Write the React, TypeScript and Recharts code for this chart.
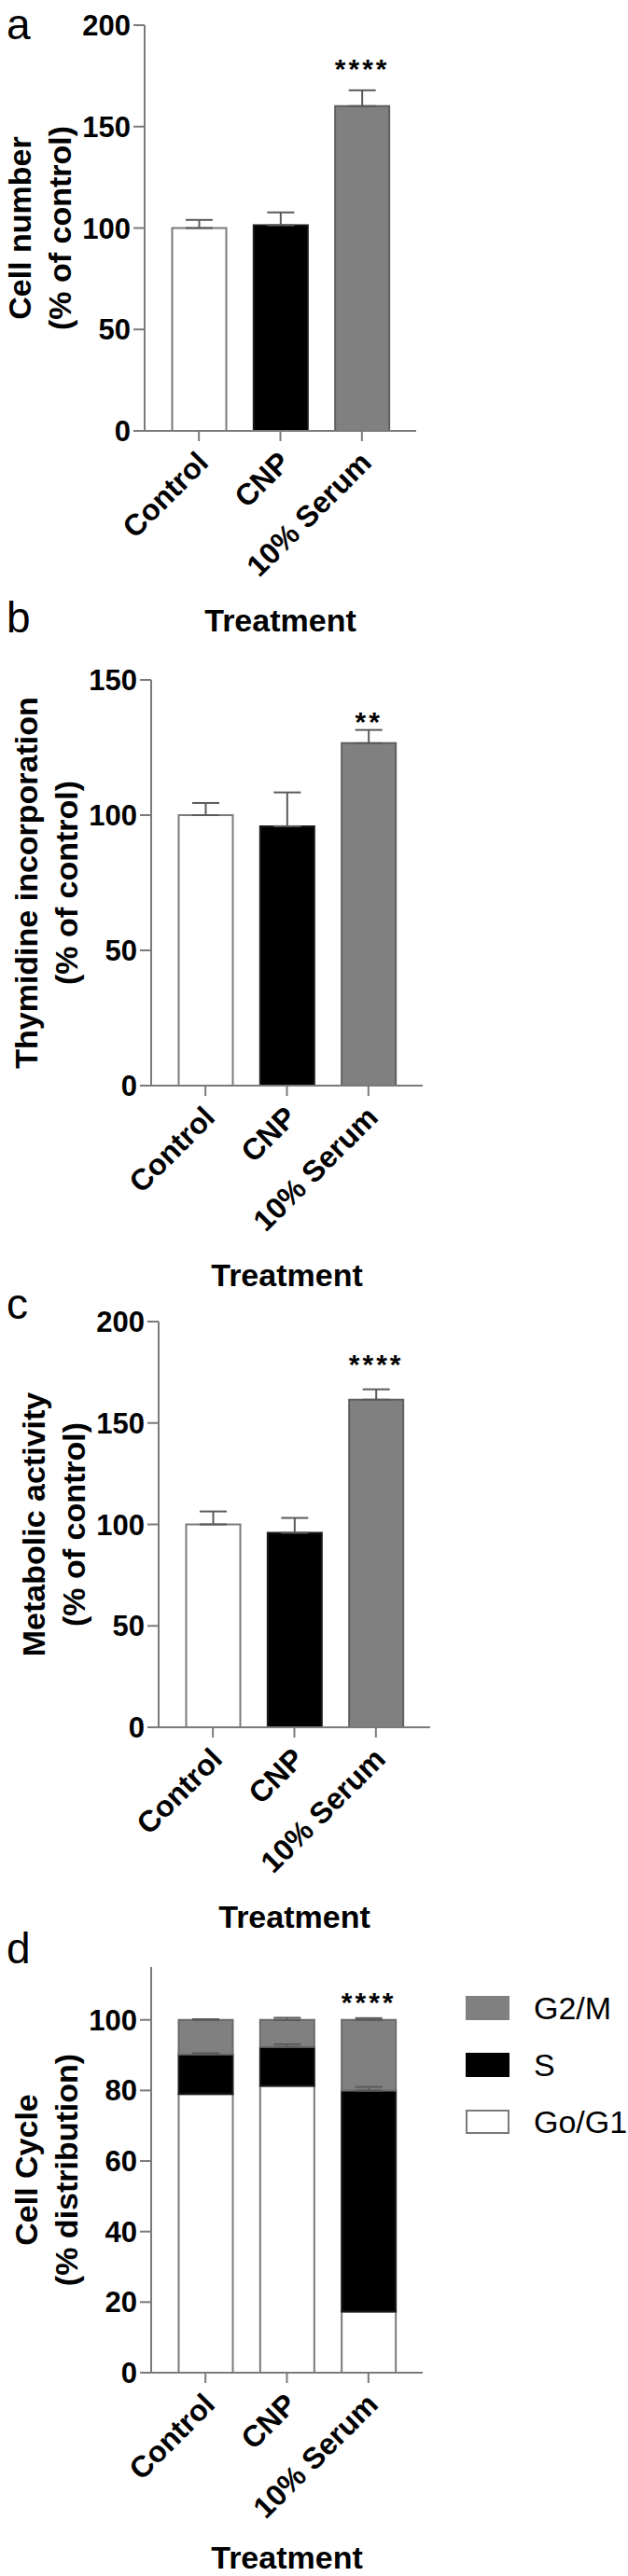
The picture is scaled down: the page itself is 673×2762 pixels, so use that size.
import React from "react";
import {
  BarChart,
  Bar,
  XAxis,
  YAxis,
  ErrorBar,
  Cell,
  LabelList,
  Legend,
} from "recharts";

// shared categories
const categories = ["Control", "CNP", "10% Serum"];
const barFills = ["#ffffff", "#000000", "#808080"];
const barStrokes = ["#7a7a7a", "#1a1a1a", "#5f5f5f"];

// a - cell number
const cellNumber = [100, 101.4, 160.1];
const cellNumberErr = [4, 6.3, 7.8];
const cellNumberSig = ["", "", "****"];

// b - thymidine incorporation
const thymidine = [100, 95.9, 126.6];
const thymidineErr = [4.5, 12.5, 4.9];
const thymidineSig = ["", "", "**"];

// c - metabolic activity
const metabolic = [100, 95.9, 161.5];
const metabolicErr = [6.4, 7.3, 5.1];
const metabolicSig = ["", "", "****"];

// d - cell cycle distribution
const g0g1 = [79, 81.3, 17.3];
const sPhase = [11.2, 11, 62.7];
const sPhaseErr = [0.4, 0.8, 1.0];
const g2m = [9.8, 7.7, 20];
const g2mErr = [0.2, 0.6, 0.5];
const cycleSig = ["", "", "****"];
const cyclePhases = ["G2/M", "S", "Go/G1"];
const cycleFills = ["#808080", "#000000", "#ffffff"];

const ticks200 = [0, 50, 100, 150, 200];
const ticks150 = [0, 50, 100, 150];
const ticksCycle = [0, 20, 40, 60, 80, 100];

const FONT = "'Liberation Sans', Arial, Helvetica, sans-serif";
const AXIS = "#7a7a7a";
const ERR = "#5a5a5a";

const PLOT_W = 291;
const TOP_M = 27;
const PLOT_H = 435;
const X_AXIS_H = 225;
const CHART_H = TOP_M + PLOT_H + X_AXIS_H;

function RotatedTick(props: any) {
  const { x, y, payload } = props;
  const ax = x + 12;
  const ay = y + 23;
  return (
    <text
      x={ax}
      y={ay}
      transform={`rotate(-45 ${ax} ${ay})`}
      textAnchor="end"
      fontSize={32}
      fontWeight="bold"
      fill="#000"
      fontFamily={FONT}
    >
      {payload.value}
    </text>
  );
}

function XTitle(props: any) {
  const vb = props.viewBox || {};
  const cx = vb.x + vb.width / 2;
  const by = vb.y + (props.gap ?? 215);
  return (
    <text x={cx} y={by} textAnchor="middle" fontSize={34} fontWeight="bold" fill="#000" fontFamily={FONT}>
      Treatment
    </text>
  );
}

function YTitle(props: any) {
  const vb = props.viewBox || {};
  const axisX = vb.x + vb.width;
  const cy = vb.y + vb.height / 2;
  const lines: string[] = props.lines;
  return (
    <g>
      {lines.map((t, i) => {
        const bx = axisX - 134 + i * 43 + 12;
        return (
          <text
            key={i}
            x={bx}
            y={cy}
            transform={`rotate(-90 ${bx} ${cy})`}
            textAnchor="middle"
            fontSize={34}
            fontWeight="bold"
            fill="#000"
            fontFamily={FONT}
          >
            {t}
          </text>
        );
      })}
    </g>
  );
}

const yTick = { fill: "#000", fontSize: 31, fontWeight: "bold", fontFamily: FONT };
const axisLine = { stroke: AXIS, strokeWidth: 2 };
const starStyle = { fontSize: 30, fontWeight: "bold", fill: "#000", letterSpacing: 3, fontFamily: FONT };

interface SinglePanelProps {
  top: number;
  plotLeft: number;
  values: number[];
  errs: number[];
  sig: string[];
  sigOffset: number;
  yMax: number;
  ticks: number[];
  title: string[];
}

function SinglePanel({ top, plotLeft, values, errs, sig, sigOffset, yMax, ticks, title }: SinglePanelProps) {
  const data = categories.map((name, i) => ({
    name,
    value: values[i],
    err: [0, errs[i]],
    sig: sig[i],
  }));
  return (
    <div style={{ position: "absolute", left: 0, top }}>
      <BarChart
        width={plotLeft + PLOT_W + 12}
        height={CHART_H}
        data={data}
        barSize={58}
        margin={{ top: TOP_M, right: 12, left: 0, bottom: 0 }}
      >
        <XAxis
          dataKey="name"
          height={X_AXIS_H}
          interval={0}
          padding={{ left: 14.5, right: 14.5 }}
          tick={<RotatedTick />}
          tickSize={11}
          axisLine={axisLine}
          tickLine={axisLine}
          label={<XTitle />}
        />
        <XAxis xAxisId="top" orientation="top" dataKey="name" height={0} tick={false} tickLine={false} axisLine={axisLine} />
        <YAxis
          domain={[0, yMax]}
          ticks={ticks}
          width={plotLeft}
          tick={yTick}
          tickSize={12}
          tickMargin={3}
          axisLine={axisLine}
          tickLine={axisLine}
          label={<YTitle lines={title} />}
        />
        <YAxis yAxisId="right" orientation="right" domain={[0, yMax]} width={0} tick={false} tickLine={false} axisLine={axisLine} />
        <Bar dataKey="value" strokeWidth={2} isAnimationActive={false}>
          {data.map((d, i) => (
            <Cell key={d.name} fill={barFills[i]} stroke={barStrokes[i]} />
          ))}
          <ErrorBar dataKey="err" direction="y" width={14.5} stroke={ERR} strokeWidth={2} />
          <LabelList dataKey="sig" position="top" offset={sigOffset} style={starStyle} />
        </Bar>
      </BarChart>
    </div>
  );
}

function CycleLegend() {
  return (
    <div style={{ fontFamily: FONT }}>
      {cyclePhases.map((label, i) => (
        <div key={label} style={{ display: "flex", alignItems: "center", height: 61 }}>
          <div
            style={{
              width: 47,
              height: 26,
              boxSizing: "border-box",
              background: cycleFills[i],
              border: cycleFills[i] === "#ffffff" ? `2px solid ${AXIS}` : "none",
            }}
          />
          <span style={{ marginLeft: 26, fontSize: 34, color: "#000", lineHeight: "34px" }}>{label}</span>
        </div>
      ))}
    </div>
  );
}

function CyclePanel({ top, plotLeft }: { top: number; plotLeft: number }) {
  const data = categories.map((name, i) => ({
    name,
    g0g1: g0g1[i],
    s: sPhase[i],
    sErr: [0, sPhaseErr[i]],
    g2m: g2m[i],
    g2mErr: [0, g2mErr[i]],
    sig: cycleSig[i],
  }));
  const rightM = 673 - plotLeft - PLOT_W;
  return (
    <div style={{ position: "absolute", left: 0, top }}>
      <BarChart
        width={673}
        height={CHART_H}
        data={data}
        barSize={58}
        margin={{ top: TOP_M, right: rightM, left: 0, bottom: 0 }}
      >
        <XAxis
          dataKey="name"
          height={X_AXIS_H}
          interval={0}
          padding={{ left: 14.5, right: 14.5 }}
          tick={<RotatedTick />}
          tickSize={11}
          axisLine={axisLine}
          tickLine={axisLine}
          label={<XTitle gap={210} />}
        />
        <XAxis xAxisId="top" orientation="top" dataKey="name" height={0} tick={false} tickLine={false} axisLine={axisLine} />
        <YAxis
          domain={[0, 115]}
          ticks={ticksCycle}
          width={plotLeft}
          tick={yTick}
          tickSize={12}
          tickMargin={3}
          axisLine={axisLine}
          tickLine={axisLine}
          label={<YTitle lines={["Cell Cycle", "(% distribution)"]} />}
        />
        <YAxis yAxisId="right" orientation="right" domain={[0, 115]} width={0} tick={false} tickLine={false} axisLine={axisLine} />
        <Legend
          layout="vertical"
          align="center"
          verticalAlign="middle"
          wrapperStyle={{ left: 499, top: 40, width: 174, height: 190 }}
          content={<CycleLegend />}
        />
        <Bar dataKey="g0g1" name="Go/G1" stackId="c" fill="#ffffff" stroke="#7a7a7a" strokeWidth={2} isAnimationActive={false} />
        <Bar dataKey="s" name="S" stackId="c" fill="#000000" stroke="#1a1a1a" strokeWidth={2} isAnimationActive={false}>
          <ErrorBar dataKey="sErr" direction="y" width={14.5} stroke={ERR} strokeWidth={2} />
        </Bar>
        <Bar dataKey="g2m" name="G2/M" stackId="c" fill="#808080" stroke="#6a6a6a" strokeWidth={2} isAnimationActive={false}>
          <ErrorBar dataKey="g2mErr" direction="y" width={14.5} stroke={ERR} strokeWidth={2} />
          <LabelList dataKey="sig" position="top" offset={9} style={starStyle} />
        </Bar>
      </BarChart>
    </div>
  );
}

const panelLetters = [
  { t: "a", y: 42 },
  { t: "b", y: 678 },
  { t: "c", y: 1414 },
  { t: "d", y: 2105 },
];

export default function App() {
  return (
    <div
      style={{
        position: "absolute",
        left: 0,
        top: 0,
        width: 673,
        height: 2762,
        background: "#ffffff",
        fontFamily: FONT,
        overflow: "hidden",
      }}
    >
      <SinglePanel
        top={0}
        plotLeft={155}
        values={cellNumber}
        errs={cellNumberErr}
        sig={cellNumberSig}
        sigOffset={30}
        yMax={200}
        ticks={ticks200}
        title={["Cell number", "(% of control)"]}
      />
      <SinglePanel
        top={702}
        plotLeft={162}
        values={thymidine}
        errs={thymidineErr}
        sig={thymidineSig}
        sigOffset={13}
        yMax={150}
        ticks={ticks150}
        title={["Thymidine incorporation", "(% of control)"]}
      />
      <SinglePanel
        top={1390}
        plotLeft={170}
        values={metabolic}
        errs={metabolicErr}
        sig={metabolicSig}
        sigOffset={28}
        yMax={200}
        ticks={ticks200}
        title={["Metabolic activity", "(% of control)"]}
      />
      <CyclePanel top={2082} plotLeft={162} />
      <svg width={673} height={2762} style={{ position: "absolute", left: 0, top: 0, pointerEvents: "none" }}>
        {panelLetters.map((p) => (
          <text key={p.t} x={7} y={p.y} fontSize={46} fontFamily={FONT} fill="#000">
            {p.t}
          </text>
        ))}
      </svg>
    </div>
  );
}
